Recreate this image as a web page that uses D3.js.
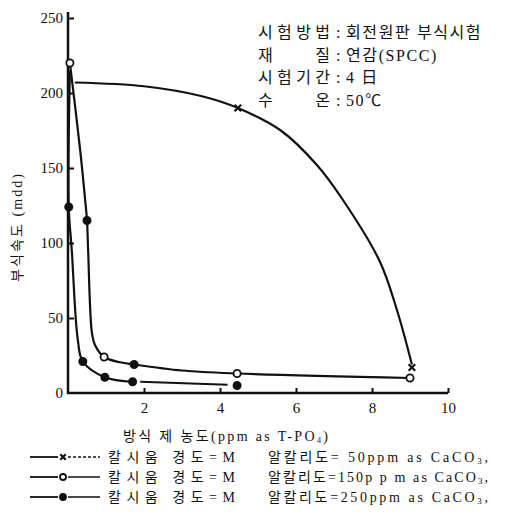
<!DOCTYPE html>
<html>
<head>
<meta charset="utf-8">
<script src="https://cdn.jsdelivr.net/npm/d3@7"></script>
<style>
  body { margin: 0; background: #fff; }
  svg text { font-family: "Liberation Serif", "Noto Sans CJK KR", serif; fill: #111; }
</style>
</head>
<body>
<div id="chart"></div>
<script>
// Data (x = ppm as T-PO4, y = mdd)
const xTicks = [2, 4, 6, 8, 10];
const yTicks = [0, 50, 100, 150, 200, 250];

// 50ppm alkalinity: curve trace and marked points
const s50Curve = [[0.18, 207], [2.0, 204.5], [3.5, 198], [4.47, 190], [5.6, 175],
  [6.55, 152], [7.2, 130], [8.2, 88], [8.66, 55], [9.05, 19]];
const s50Marks = [[4.47, 190], [9.05, 17]];

// 150ppm alkalinity
const s150Curve = [[0.05, 220], [0.32, 162], [0.45, 129], [0.5, 115], [0.53, 95], [0.63, 40],
  [0.71, 32], [0.95, 24], [1.37, 20.5], [1.74, 19], [3.0, 15], [4.45, 13], [9.0, 10]];
const s150Marks = [[0.05, 220, 'open'], [0.5, 115, 'fill'], [0.95, 24, 'open'], [1.74, 19, 'fill'],
  [4.45, 13, 'open'], [9.0, 10, 'open']];

// 250ppm alkalinity
const s250Curve = [[0.05, 215], [0.02, 124], [0.1, 95], [0.26, 35], [0.39, 21], [0.97, 10.5], [1.7, 7.5]];
const s250Tail = [[1.9, 7.5], [4.2, 5.5]];
const s250Marks = [[0.02, 124], [0.39, 21], [0.97, 10.5], [1.7, 7.5], [4.45, 5]];

const legendRows = [
  { mark: 'x', alk: '알칼리도= 50ppm as CaCO' },
  { mark: 'open', alk: '알칼리도=150p p m  as  CaCO' },
  { mark: 'fill', alk: '알칼리도=250ppm  as  CaCO' }
];
const noteRows = [
  ['시험방법', '회전원판 부식시험'],
  ['재      질', '연감(SPCC)'],
  ['시험기간', '4 日'],
  ['수      온', '50℃']
];

const W = 505, H = 514;
const svg = d3.select('#chart').append('svg').attr('width', W).attr('height', H);

const x = d3.scaleLinear().domain([0, 10]).range([68, 448]);
const y = d3.scaleLinear().domain([0, 250]).range([393, 18]);

// axes
const yAxis = svg.append('g')
  .attr('transform', `translate(${x(0)},0)`)
  .call(d3.axisLeft(y).tickValues(yTicks).tickSizeInner(-6).tickSizeOuter(0).tickPadding(5));
yAxis.select('.domain').remove();
yAxis.selectAll('line').attr('stroke', '#111').attr('stroke-width', 2);
yAxis.selectAll('text').style('font-size', '15px').attr('fill', '#111');
yAxis.selectAll('.tick').filter(d => d === 0).select('line').remove();

const xAxis = svg.append('g')
  .attr('transform', `translate(0,${y(0)})`)
  .call(d3.axisBottom(x).tickValues(xTicks).tickSizeInner(-5).tickSizeOuter(0).tickPadding(9));
xAxis.select('.domain').remove();
xAxis.selectAll('line').attr('stroke', '#111').attr('stroke-width', 2);
xAxis.selectAll('text').style('font-size', '15px').attr('fill', '#111');

svg.append('line').attr('x1', x(0)).attr('x2', x(0)).attr('y1', 12).attr('y2', y(0) + 1)
  .attr('stroke', '#111').attr('stroke-width', 2.5);
svg.append('line').attr('x1', x(0) - 1).attr('x2', x(10)).attr('y1', y(0)).attr('y2', y(0))
  .attr('stroke', '#111').attr('stroke-width', 2.5);

// axis titles
svg.append('text')
  .attr('transform', `translate(22,${y(110)}) rotate(-90)`)
  .attr('text-anchor', 'middle').style('font-size', '14px')
  .attr('textLength', 108).attr('lengthAdjust', 'spacing')
  .text('부식속도 (mdd)');

const xt = svg.append('text').attr('x', 123).attr('y', 441).style('font-size', '14px')
  .attr('textLength', 205).attr('lengthAdjust', 'spacing');
xt.append('tspan').text('방식 제 농도(ppm as T-PO');
xt.append('tspan').attr('dy', 2).style('font-size', '8px').text('4');
xt.append('tspan').attr('dy', -2).text(')');

// curves
const line = d3.line().x(d => x(d[0])).y(d => y(d[1])).curve(d3.curveCatmullRom.alpha(0.5));
[s50Curve, s150Curve, s250Curve, s250Tail].forEach((c, i) => {
  svg.append('path').attr('d', line(c)).attr('fill', 'none').attr('stroke', '#111')
    .attr('stroke-width', i === 3 ? 1.8 : 2.2);
});

// markers
function drawMark(g, cx, cy, type, r = 3.6) {
  if (type === 'x') {
    const s = r - 0.3;
    g.append('path').attr('d', `M${cx - s},${cy - s}L${cx + s},${cy + s}M${cx - s},${cy + s}L${cx + s},${cy - s}`)
      .attr('stroke', '#111').attr('stroke-width', 2.2);
  } else {
    g.append('circle').attr('cx', cx).attr('cy', cy).attr('r', r)
      .attr('fill', type === 'open' ? '#fff' : '#111').attr('stroke', '#111').attr('stroke-width', 1.8);
  }
}
const marks = svg.append('g');
s50Marks.forEach(d => drawMark(marks, x(d[0]), y(d[1]), 'x'));
s150Marks.forEach(d => drawMark(marks, x(d[0]), y(d[1]), d[2]));
s250Marks.forEach(d => drawMark(marks, x(d[0]), y(d[1]), 'fill'));

// note block
const note = svg.append('g').style('font-size', '16px');
noteRows.forEach((r, i) => {
  const ty = 38 + i * 22.5;
  note.append('text').attr('x', 258).attr('y', ty).attr('textLength', 72).attr('lengthAdjust', 'spacing').text(r[0]);
  note.append('text').attr('x', 336).attr('y', ty).text(':');
  note.append('text').attr('x', 346).attr('y', ty).style('letter-spacing', '1.6px').text(r[1]);
});

// legend
const leg = svg.append('g').style('font-size', '14px');
legendRows.forEach((r, i) => {
  const ly = 457 + i * 20;
  leg.append('line').attr('x1', 30).attr('x2', 58).attr('y1', ly).attr('y2', ly)
    .attr('stroke', '#111').attr('stroke-width', 1.8);
  leg.append('line').attr('x1', 68).attr('x2', 100).attr('y1', ly).attr('y2', ly)
    .attr('stroke', '#111').attr('stroke-width', 1.5)
    .attr('stroke-dasharray', r.mark === 'x' ? '3,2' : null);
  drawMark(leg, 63, ly, r.mark, 3);
  leg.append('text').attr('x', 108).attr('y', ly + 5)
    .attr('textLength', 127).attr('lengthAdjust', 'spacing').text('칼시움  경도=M');
  const t = leg.append('text').attr('x', 268).attr('y', ly + 5)
    .attr('textLength', 220).attr('lengthAdjust', 'spacing');
  t.append('tspan').text(r.alk);
  t.append('tspan').attr('dy', 2).style('font-size', '9px').text('3');
  t.append('tspan').attr('dy', -2).text(',');
});
</script>
</body>
</html>
